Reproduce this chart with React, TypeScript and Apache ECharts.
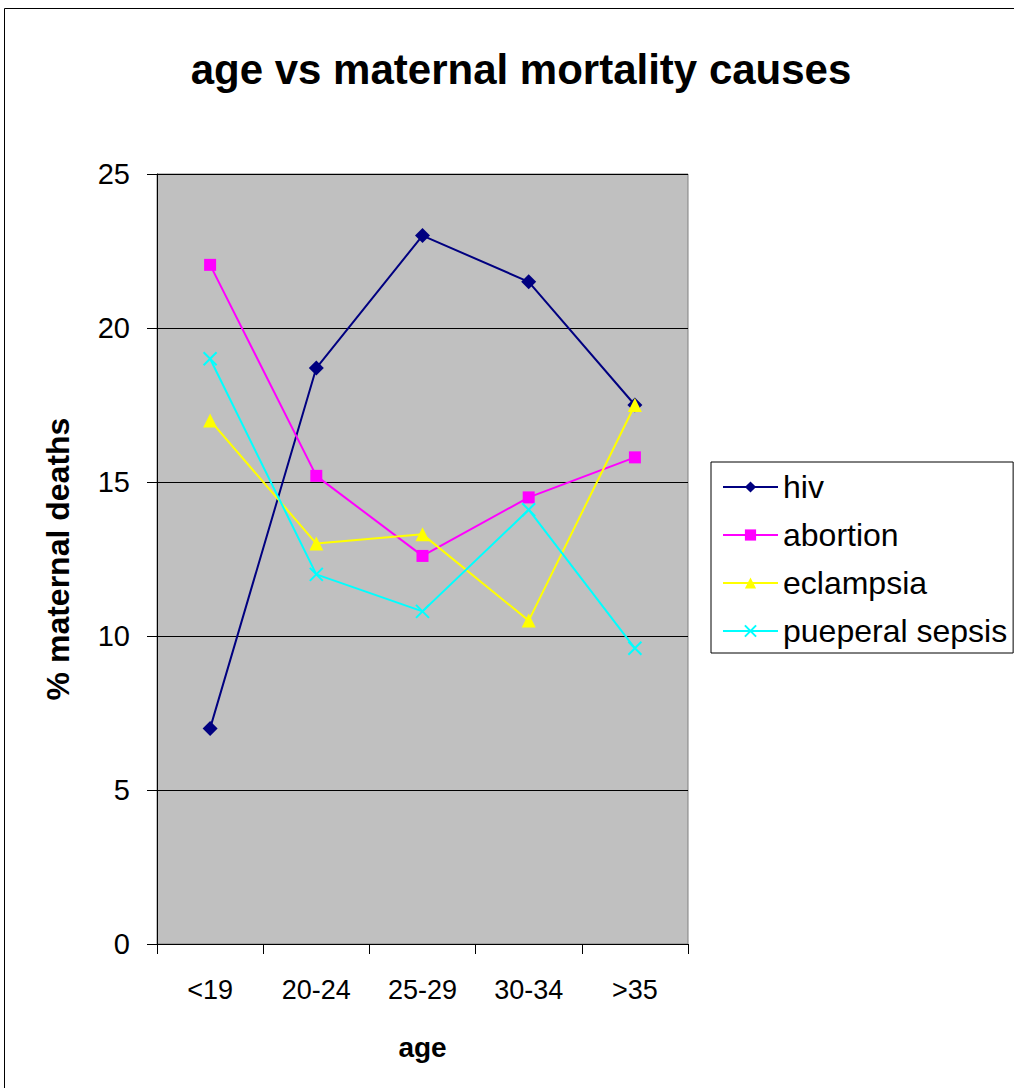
import React, { useEffect, useRef } from "react";
import * as echarts from "echarts";

const categories = ["<19", "20-24", "25-29", "30-34", ">35"];
const hiv = [7.0, 18.7, 23.0, 21.5, 17.5];
const abortion = [22.05, 15.2, 12.6, 14.5, 15.8];
const eclampsia = [17.0, 13.0, 13.3, 10.5, 17.5];
const sepsis = [19.0, 12.0, 10.8, 14.1, 9.6];

const FONT = "Liberation Sans, Arial, sans-serif";

export default function App() {
  const ref = useRef<HTMLDivElement>(null);
  useEffect(() => {
    document.body.style.margin = "0";
    const chart = echarts.init(ref.current!, undefined, { renderer: "svg" });
    chart.setOption({
      animation: false,
      backgroundColor: "#ffffff",
      textStyle: { fontFamily: FONT },
      title: {
        text: "age vs maternal mortality causes",
        left: 516,
        top: 43,
        textAlign: "center",
        textStyle: { fontFamily: FONT, fontSize: 42, fontWeight: "bold", color: "#000" },
      },
      graphic: [
        {
          type: "rect",
          shape: { x: 4.5, y: 8.5, width: 1030, height: 1100 },
          style: { fill: "none", stroke: "#000", lineWidth: 1 },
          silent: true,
        },
      ],
      legend: {
        orient: "vertical",
        left: 711,
        top: 462,
        padding: [9, 6, 6, 11],
        borderColor: "#000",
        borderWidth: 1,
        itemWidth: 55,
        itemHeight: 14,
        itemGap: 16,
        textStyle: { fontFamily: FONT, fontSize: 32, lineHeight: 31, color: "#000" },
        data: ["hiv", "abortion", "eclampsia", "pueperal sepsis"],
      },
      grid: {
        left: 157,
        top: 174,
        width: 531,
        height: 770,
        show: true,
        backgroundColor: "#c0c0c0",
        borderColor: "#808080",
        borderWidth: 1,
      },
      xAxis: {
        type: "category",
        data: categories,
        boundaryGap: true,
        name: "age",
        nameLocation: "middle",
        nameGap: 89,
        nameTextStyle: { fontFamily: FONT, fontSize: 28, fontWeight: "bold", color: "#000" },
        axisLine: { lineStyle: { color: "#000", width: 1 } },
        axisTick: { show: true, length: 10, lineStyle: { color: "#000" } },
        axisLabel: { margin: 32, fontFamily: FONT, fontSize: 27, color: "#000" },
        splitLine: { show: false },
      },
      yAxis: {
        type: "value",
        min: 0,
        max: 25,
        interval: 5,
        name: "% maternal deaths",
        nameLocation: "middle",
        nameGap: 83,
        nameTextStyle: { fontFamily: FONT, fontSize: 32, fontWeight: "bold", color: "#000" },
        axisLine: { show: true, lineStyle: { color: "#000", width: 1 } },
        axisTick: { show: true, length: 10, lineStyle: { color: "#000" } },
        axisLabel: { margin: 27, fontFamily: FONT, fontSize: 29, color: "#000" },
        splitLine: { show: true, lineStyle: { color: "#000", width: 1 } },
      },
      series: [
        {
          name: "hiv",
          type: "line",
          data: hiv,
          symbol: "diamond",
          symbolSize: 15,
          color: "#000080",
          lineStyle: { color: "#000080", width: 2 },
          itemStyle: { color: "#000080" },
        },
        {
          name: "abortion",
          type: "line",
          data: abortion,
          symbol: "rect",
          symbolSize: 12,
          color: "#ff00ff",
          lineStyle: { color: "#ff00ff", width: 2 },
          itemStyle: { color: "#ff00ff" },
        },
        {
          name: "eclampsia",
          type: "line",
          data: eclampsia,
          symbol: "triangle",
          symbolSize: 14,
          color: "#ffff00",
          lineStyle: { color: "#ffff00", width: 2 },
          itemStyle: { color: "#ffff00" },
        },
        {
          name: "pueperal sepsis",
          type: "line",
          data: sepsis,
          symbol: "path://M0 0L10 10M10 0L0 10",
          symbolSize: 13,
          color: "#00ffff",
          lineStyle: { color: "#00ffff", width: 2 },
          itemStyle: { color: "none", borderColor: "#00ffff", borderWidth: 2 },
        },
      ],
    });
    return () => chart.dispose();
  }, []);
  return (
    <div
      ref={ref}
      style={{ position: "fixed", left: 0, top: 0, width: 1014, height: 1088 }}
    />
  );
}
